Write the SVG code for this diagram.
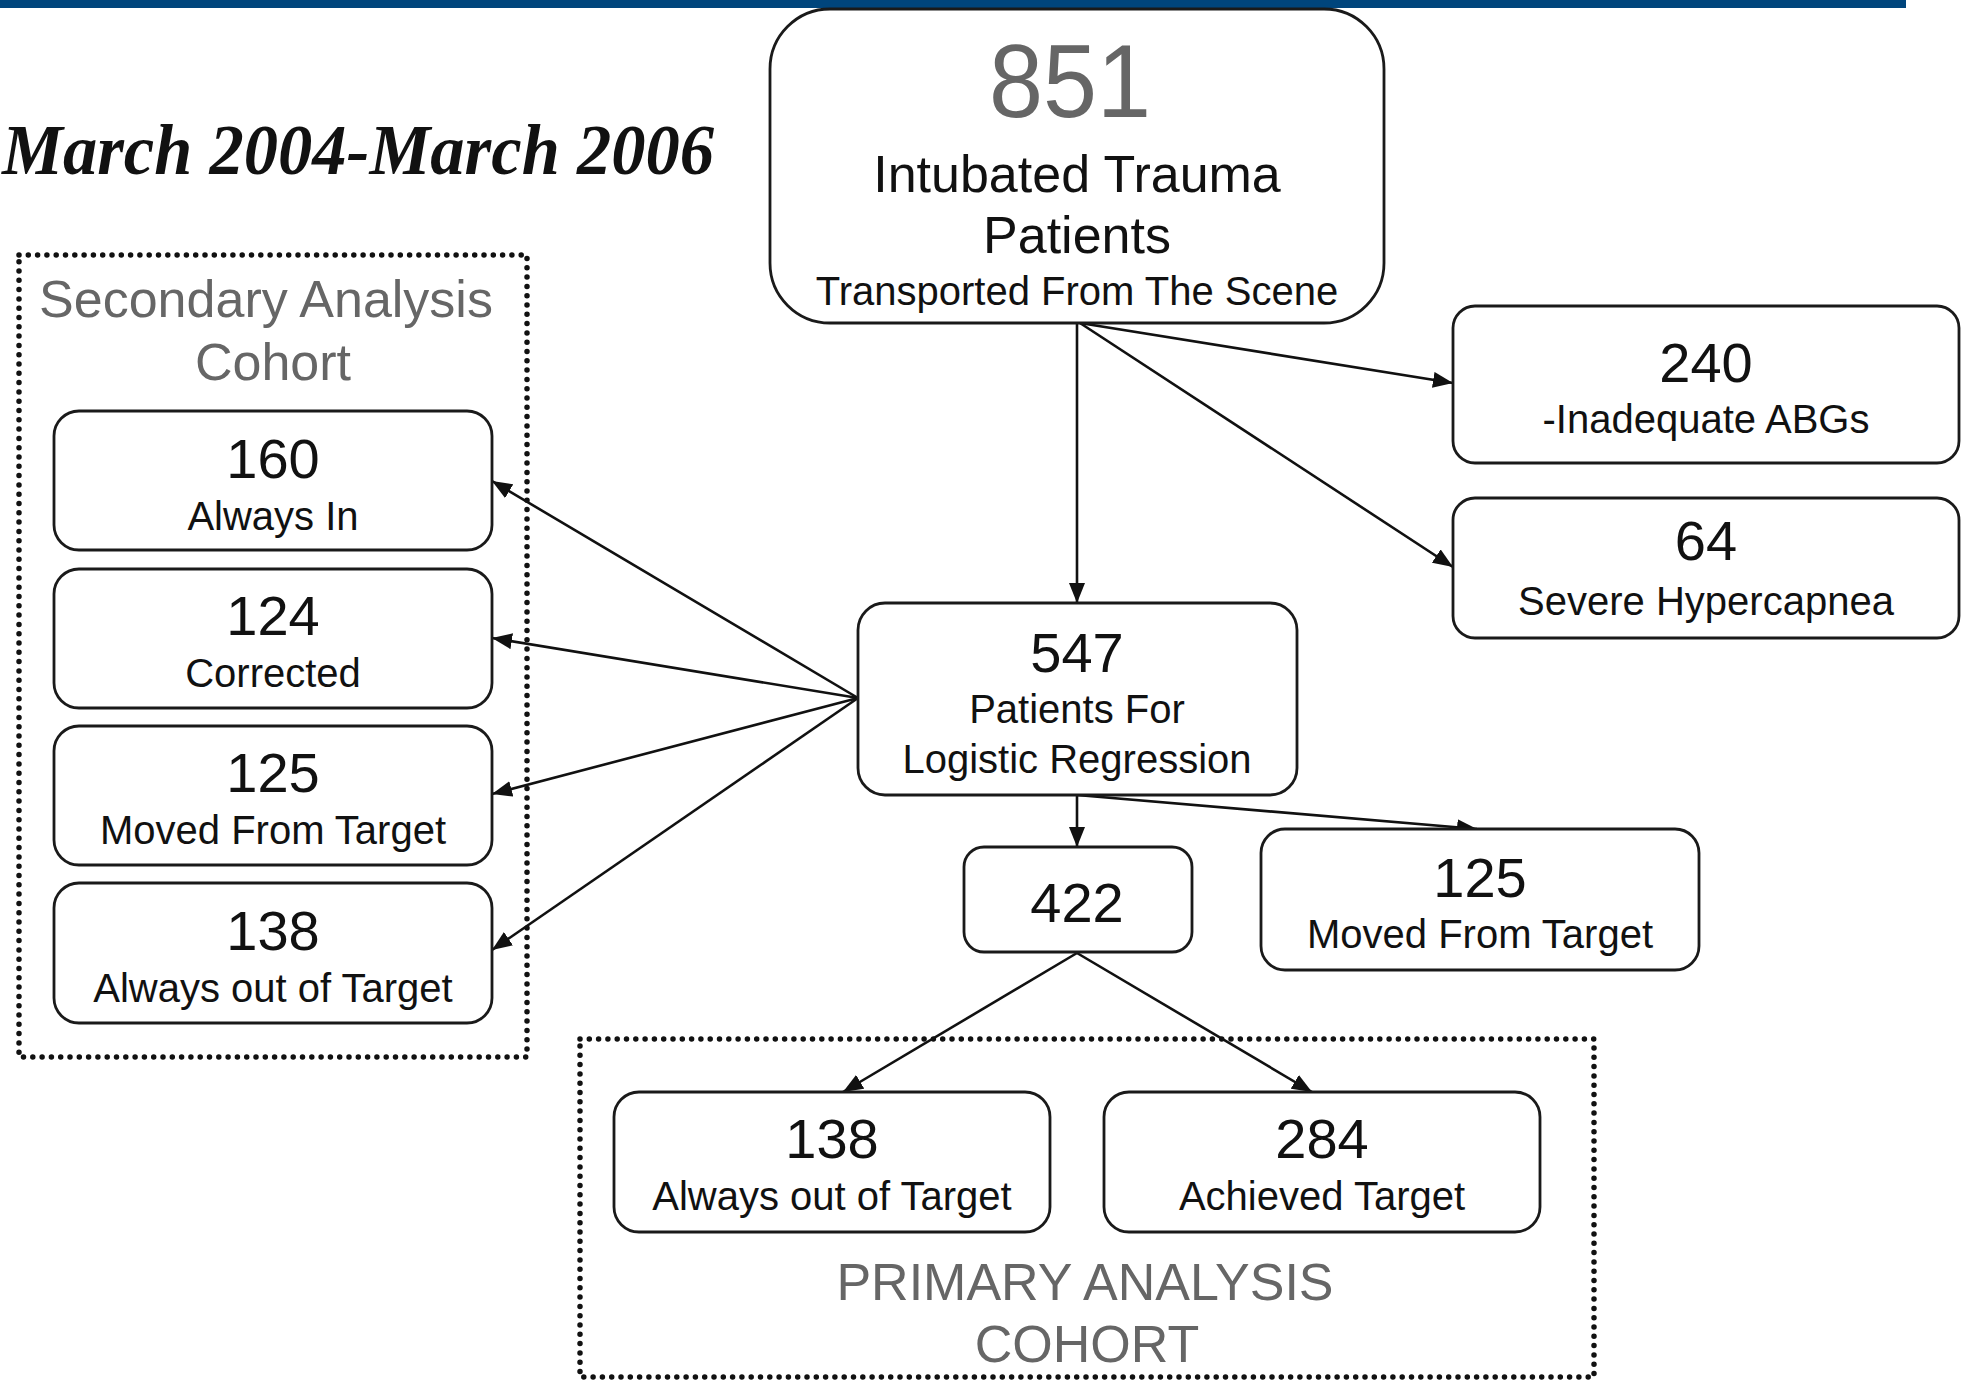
<svg xmlns="http://www.w3.org/2000/svg" width="1966" height="1380" viewBox="0 0 1966 1380">
<style>
.box{fill:#fff;stroke:#1a1a1a;stroke-width:2.8}
.dot{fill:none;stroke:#111;stroke-width:5.5;stroke-dasharray:0 9.3;stroke-linecap:round}
.con{fill:none;stroke:#111;stroke-width:2.6;marker-end:url(#ah)}
text{font-family:"Liberation Sans",Arial,sans-serif;text-anchor:middle;fill:#111}
.num{font-size:56px}
.lab{font-size:40px}
.gray{fill:#666}
.big{font-size:52px}
</style>
<defs>
<marker id="ah" markerUnits="userSpaceOnUse" markerWidth="20" markerHeight="16" refX="20" refY="8" orient="auto">
<path d="M0,0 L20,8 L0,16 z" fill="#111"/>
</marker>
</defs>
<rect x="0" y="0" width="1906" height="8" fill="#00457c"/>
<text x="2" y="174" textLength="712" lengthAdjust="spacingAndGlyphs" style="font-family:'Liberation Serif','Times New Roman',serif;font-size:71px;font-weight:bold;font-style:italic;text-anchor:start">March 2004-March 2006</text>

<g id="secondary-cohort">
<rect class="dot" x="19" y="255" width="508" height="802"/>
<text class="gray big" x="266" y="317">Secondary Analysis</text>
<text class="gray big" x="273" y="380">Cohort</text>
</g>
<g id="primary-cohort">
<rect class="dot" x="580" y="1039" width="1014" height="338"/>
<text class="gray big" x="1085" y="1300">PRIMARY ANALYSIS</text>
<text class="gray big" x="1087" y="1362">COHORT</text>
</g>

<g id="connectors">
<path class="con" d="M1077,323 L1077,603"/>
<path class="con" d="M1080,323 L1453,383"/>
<path class="con" d="M1080,323 L1453,567"/>
<path class="con" d="M858,698 L492,481"/>
<path class="con" d="M858,698 L492,638"/>
<path class="con" d="M858,698 L492,794"/>
<path class="con" d="M858,698 L492,950"/>
<path class="con" d="M1077,795 L1077,847"/>
<path class="con" d="M1077,795 L1477,829"/>
<path class="con" d="M1077,953 L843,1092"/>
<path class="con" d="M1077,953 L1312,1092"/>
</g>

<g id="n851">
<rect class="box" x="770" y="9" width="614" height="314" rx="60"/>
<text class="gray" x="1070" y="117" style="font-size:104px" textLength="162" lengthAdjust="spacingAndGlyphs">851</text>
<text class="big" x="1077" y="192">Intubated Trauma</text>
<text class="big" x="1077" y="253">Patients</text>
<text class="lab" x="1077" y="305">Transported From The Scene</text>
</g>
<g id="n240">
<rect class="box" x="1453" y="306" width="506" height="157" rx="22"/>
<text class="num" x="1706" y="382">240</text>
<text class="lab" x="1706" y="433">-Inadequate ABGs</text>
</g>
<g id="n64">
<rect class="box" x="1453" y="498" width="506" height="140" rx="22"/>
<text class="num" x="1706" y="560">64</text>
<text class="lab" x="1706" y="615">Severe Hypercapnea</text>
</g>
<g id="n547">
<rect class="box" x="858" y="603" width="439" height="192" rx="27"/>
<text class="num" x="1077" y="672">547</text>
<text class="lab" x="1077" y="723">Patients For</text>
<text class="lab" x="1077" y="773">Logistic Regression</text>
</g>
<g id="n422">
<rect class="box" x="964" y="847" width="228" height="105" rx="20"/>
<text class="num" x="1077" y="922">422</text>
</g>
<g id="n125r">
<rect class="box" x="1261" y="829" width="438" height="141" rx="24"/>
<text class="num" x="1480" y="897">125</text>
<text class="lab" x="1480" y="948">Moved From Target</text>
</g>
<g id="n160">
<rect class="box" x="54" y="411" width="438" height="139" rx="25"/>
<text class="num" x="273" y="478">160</text>
<text class="lab" x="273" y="530">Always In</text>
</g>
<g id="n124">
<rect class="box" x="54" y="569" width="438" height="139" rx="25"/>
<text class="num" x="273" y="635">124</text>
<text class="lab" x="273" y="687">Corrected</text>
</g>
<g id="n125l">
<rect class="box" x="54" y="726" width="438" height="139" rx="25"/>
<text class="num" x="273" y="792">125</text>
<text class="lab" x="273" y="844">Moved From Target</text>
</g>
<g id="n138l">
<rect class="box" x="54" y="883" width="438" height="140" rx="25"/>
<text class="num" x="273" y="950">138</text>
<text class="lab" x="273" y="1002">Always out of Target</text>
</g>
<g id="n138b">
<rect class="box" x="614" y="1092" width="436" height="140" rx="25"/>
<text class="num" x="832" y="1158">138</text>
<text class="lab" x="832" y="1210">Always out of Target</text>
</g>
<g id="n284">
<rect class="box" x="1104" y="1092" width="436" height="140" rx="25"/>
<text class="num" x="1322" y="1158">284</text>
<text class="lab" x="1322" y="1210">Achieved Target</text>
</g>
</svg>
